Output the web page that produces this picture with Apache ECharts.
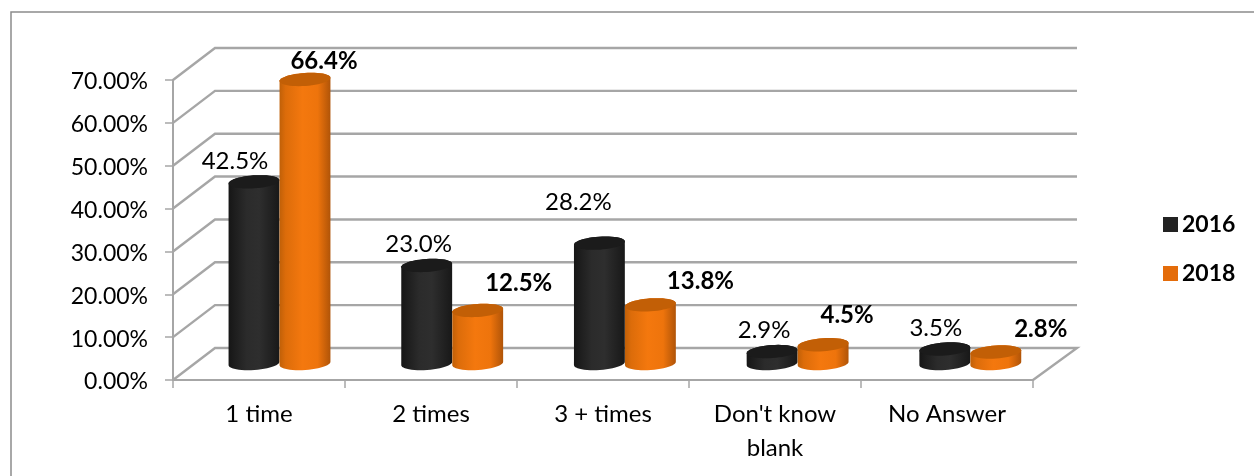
<!DOCTYPE html>
<html><head><meta charset="utf-8">
<script src="https://cdn.jsdelivr.net/npm/echarts@6/dist/echarts.min.js"></script>
<style>html,body{margin:0;padding:0;background:#fff;overflow:hidden}#c{width:1254px;height:476px}</style>
</head><body><div id="c"></div>
<script>
const categories = ["1 time", "2 times", "3 + times", "Don't know\nblank", "No Answer"];
const values2016 = [42.5, 23.0, 28.2, 2.9, 3.5];
const values2018 = [66.4, 12.5, 13.8, 4.5, 2.8];
const wallTicks = [0, 10, 20, 30, 40, 50, 60, 70];
// hand-placed data label nudges in the original, relative to each bar's top
const labelNudge2016 = [[-19,-21],[-8,-21],[-21,-41],[-8,-21],[-9,-21]];
const labelNudge2018 = [[19,-18],[41,-27],[50,-24],[24,-29],[45,-23]];

const FONT = 'Lato';
const DEPTH_X = 42, DEPTH_Y = 32, RX = 25.5, RY = 6.5, TILT = -4 * Math.PI / 180;

function ellipsePts(cx, cy, from, to, n) {
  const pts = [];
  for (let k = 0; k <= n; k++) {
    const t = from + (to - from) * k / n;
    const ex = RX * Math.cos(t), ey = RY * Math.sin(t);
    pts.push([cx + ex * Math.cos(TILT) - ey * Math.sin(TILT), cy + ex * Math.sin(TILT) + ey * Math.cos(TILT)]);
  }
  return pts;
}
function grad(stops) {
  return new echarts.graphic.LinearGradient(0, 0, 1, 0, stops.map((c, i) => ({offset: c[0], color: c[1]})));
}
function cylinderSeries(name, values, side, bodyStops, topColor, nudges, bold, legendColor) {
  return {
    name, type: 'custom', coordinateSystem: 'cartesian2d', z: side < 0 ? 3 : 4,
    itemStyle: {color: legendColor},
    data: values.map((v, i) => [i, v]),
    renderItem(params, api) {
      const i = api.value(0), v = api.value(1);
      const top = api.coord([i, v]), base = api.coord([i, 0]);
      const shift = 20.5 + 0.7 * i;
      const cx = top[0] + shift + side * RX;
      const tY = top[1] - DEPTH_Y / 2, bY = base[1] - DEPTH_Y / 2 - 0.5;
      const body = ellipsePts(cx, bY, 0, Math.PI, 24).concat(ellipsePts(cx, tY, Math.PI, 2 * Math.PI, 24));
      const cap = ellipsePts(cx, tY, 0, 2 * Math.PI, 48);
      const n = nudges[i];
      return {type: 'group', children: [
        {type: 'polygon', shape: {points: body}, style: {fill: grad(bodyStops)}},
        {type: 'polygon', shape: {points: cap}, style: {fill: topColor}},
        {type: 'text', z2: 50, style: {
          text: v.toFixed(1) + '%', x: cx + n[0], y: tY + n[1], align: 'center', verticalAlign: 'middle',
          font: (bold ? 'bold ' : '') + '24px ' + FONT, fill: '#000'}}
      ]};
    }
  };
}
const blackStops = [[0,'#161616'],[0.35,'#2b2b2b'],[0.6,'#2e2e2e'],[1,'#181818']];
const orangeStops = [[0,'#c06008'],[0.12,'#dc6c0a'],[0.45,'#f4780e'],[0.75,'#ee740c'],[1,'#b05408']];

const chart = echarts.init(document.getElementById('c'), null, {renderer: 'canvas'});
chart.setOption({
  animation: false,
  backgroundColor: '#fff',
  graphic: [{type: 'rect', shape: {x: 11, y: 12, width: 1300, height: 500}, style: {fill: 'none', stroke: '#8c8c8c', lineWidth: 1.5}, silent: true, z: -1}],
  grid: {left: 173, right: 221, top: 80, bottom: 96},
  legend: {
    orient: 'vertical', left: 1163, top: 213, padding: 0, itemWidth: 15, itemHeight: 15, itemGap: 26,
    data: [{name: '2016', icon: 'rect'}, {name: '2018', icon: 'rect'}],
    textStyle: {fontFamily: FONT, fontWeight: 'bold', fontSize: 23, color: '#000', padding: [0, 0, 0, -1]},
    selectedMode: false
  },
  xAxis: {
    type: 'category', data: categories,
    axisLine: {lineStyle: {color: '#a6a6a6', width: 2}},
    axisTick: {show: true, length: 8, alignWithLabel: false, lineStyle: {color: '#a6a6a6', width: 1.5}},
    axisLabel: {interval: 0, margin: 17, fontFamily: FONT, fontSize: 24, color: '#000', lineHeight: 34},
    splitLine: {show: false}
  },
  yAxis: {
    type: 'value', min: 0, max: 70, interval: 10,
    axisLine: {show: true, lineStyle: {color: '#a6a6a6', width: 2}},
    axisTick: {show: true, length: 8, lineStyle: {color: '#a6a6a6', width: 1.5}},
    axisLabel: {
      margin: 25, color: '#000',
      formatter: v => '{t|' + v.toFixed(2) + '%}',
      rich: {t: {fontFamily: FONT, fontSize: 23, color: '#000', padding: [4, 0, 0, 0]}}
    },
    splitLine: {show: false}
  },
  series: [
    {
      type: 'custom', coordinateSystem: 'cartesian2d', z: 1, silent: true,
      data: wallTicks.map(v => [0, v]),
      renderItem(params, api) {
        const v = api.value(1), y = api.coord([0, v])[1];
        const x0 = params.coordSys.x, x1 = x0 + params.coordSys.width;
        const pts = [[x0, y], [x0 + DEPTH_X, y - DEPTH_Y], [x1 + DEPTH_X + 2, y - DEPTH_Y]];
        if (v === 0) pts.push([x1, y]);
        return {type: 'polyline', shape: {points: pts}, style: {stroke: '#a6a6a6', lineWidth: 2.4, fill: 'none'}};
      }
    },
    cylinderSeries('2016', values2016, -1, blackStops, '#1b1b1b', labelNudge2016, false, '#222222'),
    cylinderSeries('2018', values2018, 1, orangeStops, '#c25f06', labelNudge2018, true, '#e46c0a')
  ]
});
</script></body></html>
